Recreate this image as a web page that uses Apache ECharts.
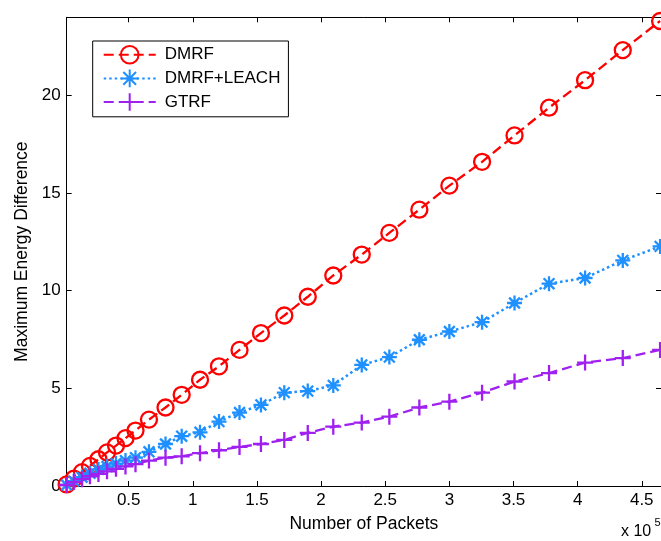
<!DOCTYPE html>
<html>
<head>
<meta charset="utf-8">
<script src="https://cdn.jsdelivr.net/npm/echarts@6/dist/echarts.min.js"></script>
<style>html,body{margin:0;padding:0;background:#fff}#c{width:661px;height:541px}</style>
</head>
<body>
<div id="c"></div>
<script>
// Number of packets (x 10^5)
var xVals = [0.016,0.073,0.136,0.198,0.264,0.331,0.401,0.475,0.553,0.658,0.787,0.913,1.056,1.204,1.364,1.531,1.713,1.896,2.095,2.317,2.532,2.766,3.000,3.255,3.508,3.777,4.058,4.352,4.643];
var dmrf  = [0.08,0.38,0.71,1.03,1.37,1.72,2.07,2.45,2.84,3.40,4.02,4.67,5.44,6.13,6.97,7.83,8.73,9.69,10.78,11.85,12.96,14.15,15.38,16.60,17.95,19.37,20.78,22.32,23.81];
var leach = [0.05,0.25,0.45,0.65,0.85,1.00,1.15,1.30,1.45,1.75,2.15,2.55,2.75,3.30,3.76,4.15,4.78,4.86,5.15,6.20,6.60,7.49,7.91,8.39,9.37,10.36,10.65,11.55,12.27];
var gtrf  = [0.05,0.20,0.35,0.50,0.62,0.75,0.88,1.00,1.12,1.30,1.45,1.52,1.68,1.83,2.00,2.15,2.36,2.72,3.04,3.25,3.55,4.02,4.32,4.78,5.35,5.78,6.32,6.55,6.97];
var seriesNames = ['DMRF','DMRF+LEACH','GTRF'];
var xTicks = [0.5,1,1.5,2,2.5,3,3.5,4,4.5];
var yTicks = [0,5,10,15,20];

var FONT = "'Liberation Sans', Arial, sans-serif";
function pairs(ys){ return xVals.map(function(x,i){ return [x, ys[i]]; }); }

var chart = echarts.init(document.getElementById('c'), null, {renderer:'canvas'});
var axisLineStyle = {onZero:false, lineStyle:{color:'#000', width:1}};
var option = {
  backgroundColor:'#fff',
  animation:false,
  grid:{left:66.7, right:0, top:17.3, bottom:55, containLabel:false},
  legend:{
    orient:'vertical', left:92.7, top:41,
    backgroundColor:'#fff', borderColor:'#000', borderWidth:1, borderRadius:0,
    padding:[4,8,5,10], itemWidth:52, itemHeight:22, itemGap:4,
    textStyle:{fontFamily:FONT, fontSize:17, color:'#000', padding:[0,0,0,4]},
    data:seriesNames
  },
  xAxis:[{
    type:'value', min:0.0166, max:4.65, position:'bottom',
    name:'Number of Packets', nameLocation:'middle', nameGap:29,
    nameTextStyle:{fontFamily:FONT, fontSize:17.5, color:'#000'},
    axisLine:axisLineStyle,
    axisTick:{inside:true, length:5, customValues:xTicks, lineStyle:{color:'#000'}},
    axisLabel:{customValues:xTicks, margin:6, fontFamily:FONT, fontSize:17, color:'#000'},
    splitLine:{show:false}
  },{
    type:'value', min:0.0166, max:4.65, position:'top',
    axisLine:axisLineStyle,
    axisTick:{inside:true, length:5, customValues:xTicks, lineStyle:{color:'#000'}},
    axisLabel:{show:false}, splitLine:{show:false}
  }],
  yAxis:[{
    type:'value', min:0, max:24, position:'left',
    name:'Maximum Energy Difference', nameLocation:'middle', nameGap:36,
    nameTextStyle:{fontFamily:FONT, fontSize:17.5, color:'#000'},
    axisLine:axisLineStyle,
    axisTick:{inside:true, length:5, customValues:yTicks, lineStyle:{color:'#000'}},
    axisLabel:{customValues:yTicks, margin:6, fontFamily:FONT, fontSize:17, color:'#000'},
    splitLine:{show:false}
  },{
    type:'value', min:0, max:24, position:'right',
    axisLine:axisLineStyle,
    axisTick:{inside:true, length:5, customValues:yTicks, lineStyle:{color:'#000'}},
    axisLabel:{show:false}, splitLine:{show:false}
  }],
  series:[{
    name:seriesNames[0], type:'line', data:pairs(dmrf),
    symbol:'circle', symbolSize:16,
    lineStyle:{color:'#FF0000', width:2.3, type:[10,5]},
    itemStyle:{color:'rgba(0,0,0,0)', borderColor:'#FF0000', borderWidth:2.3}
  },{
    name:seriesNames[1], type:'line', data:pairs(leach),
    symbol:'path://M0,-1L0,1M-1,0L1,0M-0.72,-0.72L0.72,0.72M-0.72,0.72L0.72,-0.72', symbolSize:15,
    lineStyle:{color:'#1E90FF', width:2.5, type:[2.5,3]},
    itemStyle:{color:'#1E90FF', borderColor:'#1E90FF', borderWidth:2.3}
  },{
    name:seriesNames[2], type:'line', data:pairs(gtrf),
    symbol:'path://M0,-1L0,1M-1,0L1,0', symbolSize:16,
    lineStyle:{color:'#A020F0', width:2.3, type:[10,5]},
    itemStyle:{color:'#A020F0', borderColor:'#A020F0', borderWidth:2.3}
  }],
  graphic:[
    {type:'text', left:621, top:523.5, style:{text:'x 10', font:'16px ' + FONT, fill:'#000'}},
    {type:'text', left:654.5, top:517.5, style:{text:'5', font:'11px ' + FONT, fill:'#000'}}
  ]
};
chart.setOption(option);
</script>
</body>
</html>
